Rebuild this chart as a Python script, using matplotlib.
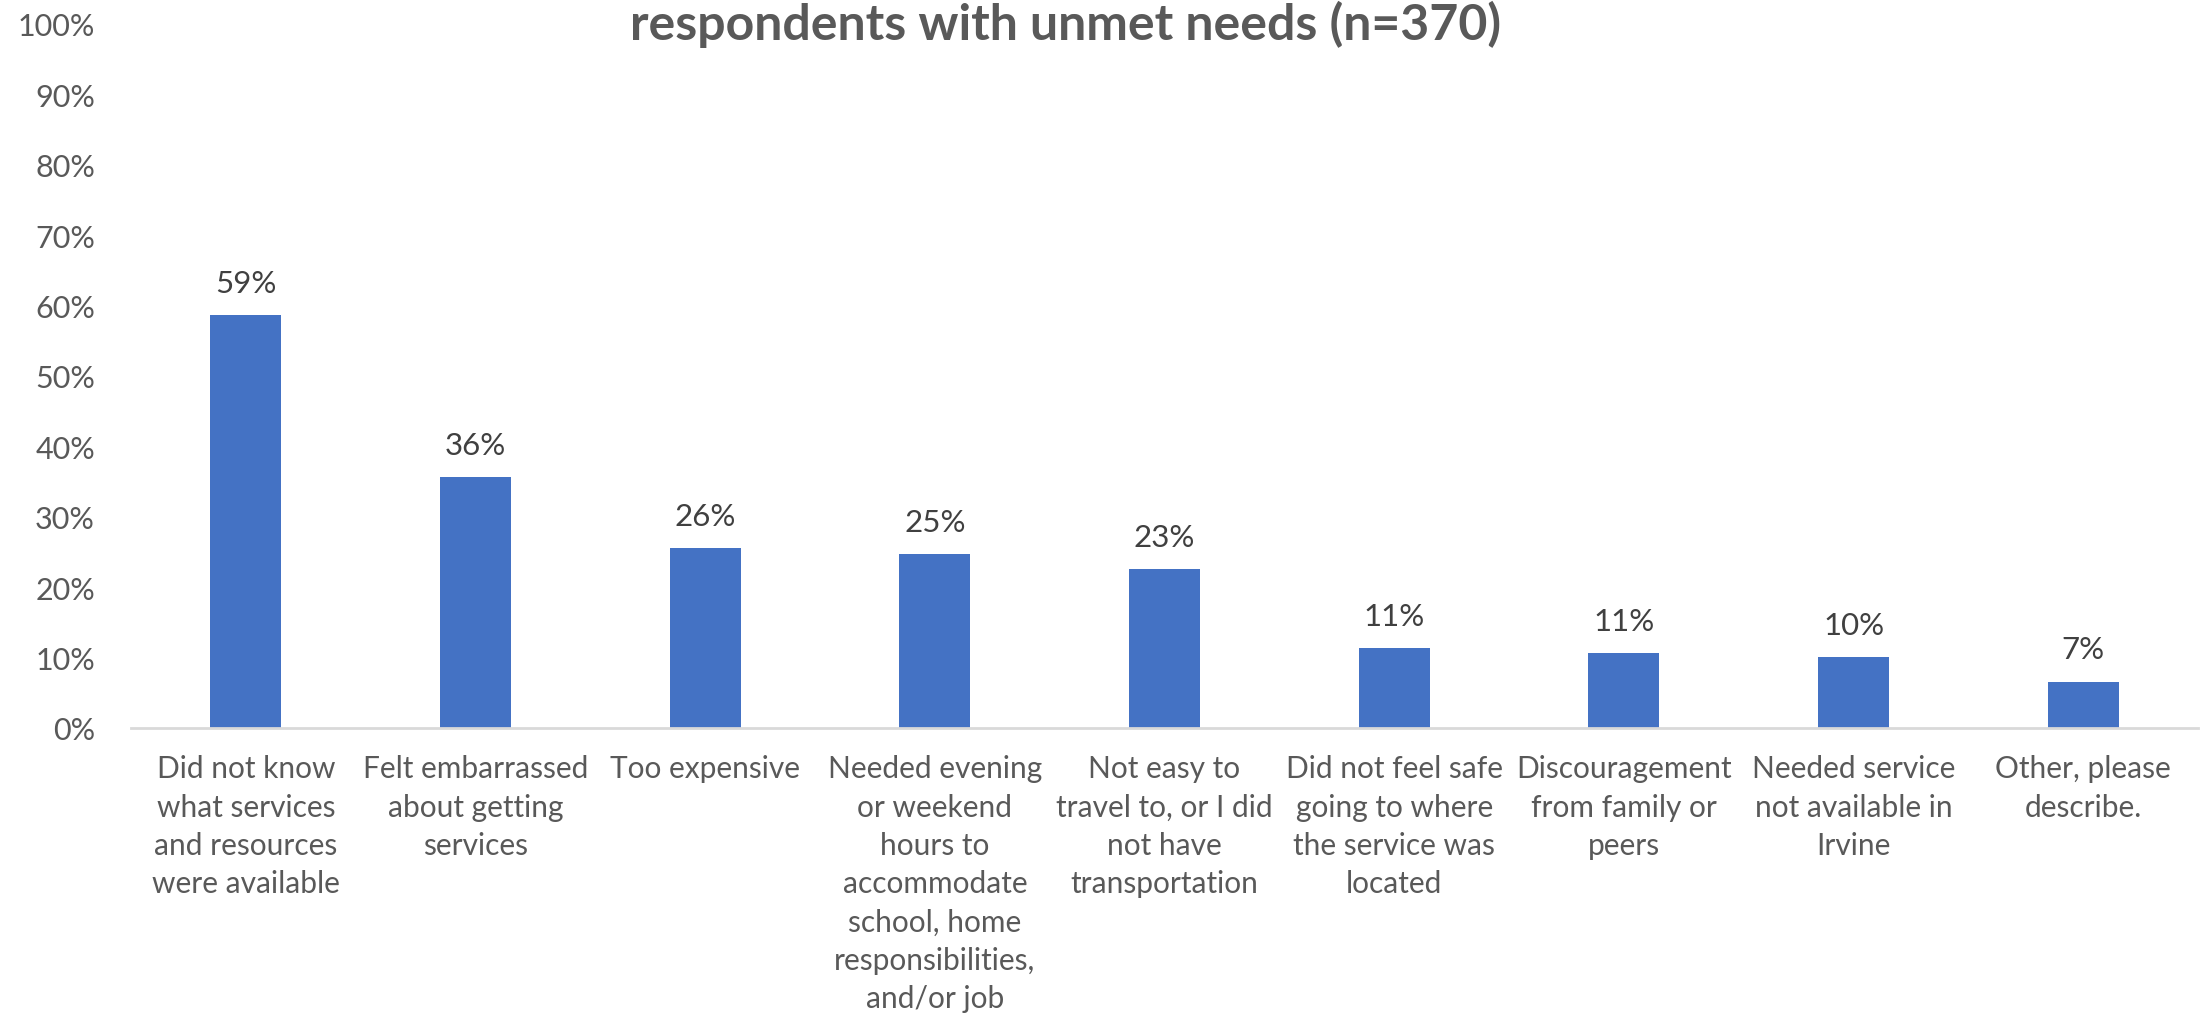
import matplotlib
matplotlib.use("Agg")
import matplotlib.pyplot as plt
from matplotlib.ticker import FuncFormatter, MultipleLocator

categories = [
    "Did not know\nwhat services\nand resources\nwere available",
    "Felt embarrassed\nabout getting\nservices",
    "Too expensive",
    "Needed evening\nor weekend\nhours to\naccommodate\nschool, home\nresponsibilities,\nand/or job",
    "Not easy to\ntravel to, or I did\nnot have\ntransportation",
    "Did not feel safe\ngoing to where\nthe service was\nlocated",
    "Discouragement\nfrom family or\npeers",
    "Needed service\nnot available in\nIrvine",
    "Other, please\ndescribe.",
]
values = [58.6, 35.7, 25.6, 24.7, 22.6, 11.3, 10.6, 10.1, 6.6]
title = "respondents with unmet needs (n=370)"

BAR = "#4472C4"
TEXT = "#595959"
LABEL = "#404040"

plt.rcParams["font.family"] = ["Lato", "DejaVu Sans"]

fig = plt.figure(figsize=(22.06, 10.20), dpi=100)
ax = fig.add_axes([0.0594, 0.2853, 0.937, 0.6902])

x = range(len(categories))
bars = ax.bar(x, values, width=0.31, color=BAR)
for b, v in zip(bars, values):
    ax.annotate(f"{v:.0f}%", (b.get_x() + b.get_width() / 2, v),
                xytext=(0, 13), textcoords="offset points",
                ha="center", va="bottom", fontsize=22.5, color=LABEL)

ax.set_xlim(-0.5, len(categories) - 0.5)
ax.set_ylim(0, 100)
ax.yaxis.set_major_locator(MultipleLocator(10))
ax.yaxis.set_major_formatter(FuncFormatter(lambda v, _: f"{v:.0f}%"))
ax.set_xticks(list(x))
ax.set_xticklabels(categories, linespacing=1.45)
ax.tick_params(axis="both", length=0, colors=TEXT)
ax.tick_params(axis="x", labelsize=21.5, pad=19)
ax.tick_params(axis="y", labelsize=22, pad=26)

for side in ("top", "right", "left"):
    ax.spines[side].set_visible(False)
ax.spines["bottom"].set_color("#D9D9D9")
ax.spines["bottom"].set_linewidth(2)

fig.text(0.483, 0.999, title, ha="center", va="top", fontsize=36,
         fontweight="bold", color=TEXT)

fig.savefig("out.png", dpi=100)
